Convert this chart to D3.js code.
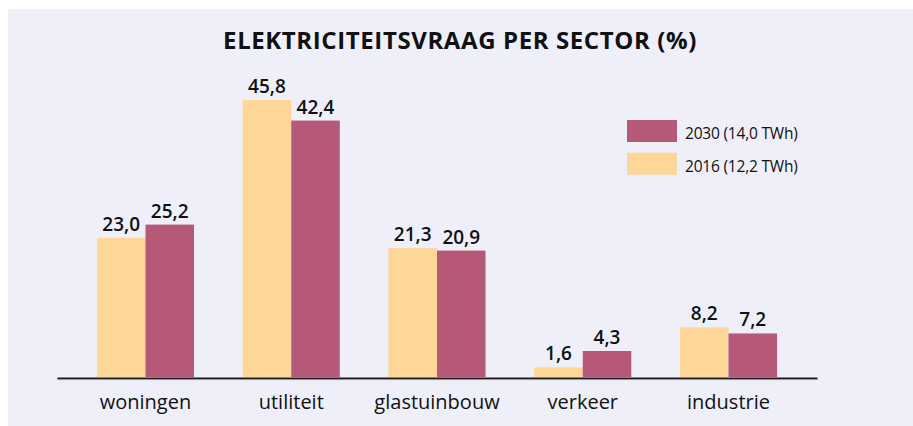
<!DOCTYPE html>
<html>
<head>
<meta charset="utf-8">
<script src="https://cdn.jsdelivr.net/npm/d3@7"></script>
<style>
  html, body { margin: 0; padding: 0; background: #fff; }
  svg { display: block; font-family: "Open Sans", sans-serif; }
</style>
</head>
<body>
<svg id="chart" width="913" height="426"></svg>
<script>
const sectors = ["woningen", "utiliteit", "glastuinbouw", "verkeer", "industrie"];
const series = ["2016", "2030"];
const values2016 = [23.0, 45.8, 21.3, 1.6, 8.2];
const values2030 = [25.2, 42.4, 20.9, 4.3, 7.2];
const legendLabels = ["2030 (14,0 TWh)", "2016 (12,2 TWh)"];
const title = "ELEKTRICITEITSVRAAG PER SECTOR (%)";

const svg = d3.select("#chart");
const colors = { "2016": "#fed698", "2030": "#b65877" };
const fmt = v => v.toFixed(1).replace(".", ",");

// panel background
svg.append("rect")
  .attr("x", 8).attr("y", 9)
  .attr("width", 905).attr("height", 417)
  .attr("fill", "#efeff9");

svg.append("text")
  .attr("x", 460)
  .attr("y", 49)
  .attr("text-anchor", "middle")
  .style("font-size", "24px")
  .style("font-weight", 700)
  .style("letter-spacing", "0.6px")
  .attr("fill", "#111")
  .text(title);

const x = d3.scaleBand()
  .domain(sectors)
  .range([57, 817])
  .paddingInner(0.334)
  .paddingOuter(0.274);

const xSub = d3.scaleBand()
  .domain(series)
  .range([0, x.bandwidth()]);

const y = d3.scaleLinear()
  .domain([0, 50])
  .range([377, 377 - 50 * 6.048]);

const rows = sectors.map((s, i) => ({
  sector: s,
  vals: [{ key: "2016", value: values2016[i] }, { key: "2030", value: values2030[i] }]
}));

const groups = svg.selectAll(".group")
  .data(rows)
  .enter()
  .append("g")
  .attr("class", "group")
  .attr("transform", d => `translate(${x(d.sector)},0)`);

groups.selectAll("rect")
  .data(d => d.vals)
  .enter()
  .append("rect")
  .attr("x", d => xSub(d.key))
  .attr("y", d => y(d.value))
  .attr("width", xSub.bandwidth())
  .attr("height", d => y(0) - y(d.value))
  .attr("fill", d => colors[d.key]);

groups.selectAll(".val")
  .data(d => d.vals)
  .enter()
  .append("text")
  .attr("class", "val")
  .attr("x", d => xSub(d.key) + xSub.bandwidth() / 2)
  .attr("y", d => y(d.value) - 7)
  .attr("text-anchor", "middle")
  .style("font-size", "19px")
  .style("font-weight", 600)
  .attr("fill", "#111")
  .text(d => fmt(d.value));

// baseline axis
const axis = svg.append("g")
  .attr("transform", "translate(0,378)")
  .call(d3.axisBottom(x).tickSize(0).tickPadding(17));
axis.select(".domain")
  .attr("stroke", "#1a1a1a")
  .attr("stroke-width", 2.2);
axis.selectAll("text")
  .style("font-family", "'Open Sans', sans-serif")
  .style("font-size", "20px")
  .attr("fill", "#111");
svg.append("line")
  .attr("x1", 57).attr("x2", 817)
  .attr("y1", 379.6).attr("y2", 379.6)
  .attr("stroke", "#9a9aa2")
  .attr("stroke-width", 1);

// legend
const legend = svg.append("g").attr("transform", "translate(627,120)");
const items = legend.selectAll(".legend-item")
  .data(["2030", "2016"])
  .enter()
  .append("g")
  .attr("class", "legend-item")
  .attr("transform", (d, i) => `translate(0, ${i * 32.7})`);

items.append("rect")
  .attr("width", 50)
  .attr("height", 22)
  .attr("fill", d => colors[d]);

items.append("text")
  .attr("x", 58)
  .attr("y", 19)
  .style("font-size", "15.5px")
  .style("letter-spacing", "-0.2px")
  .attr("fill", "#111")
  .text((d, i) => legendLabels[i]);
</script>
</body>
</html>
